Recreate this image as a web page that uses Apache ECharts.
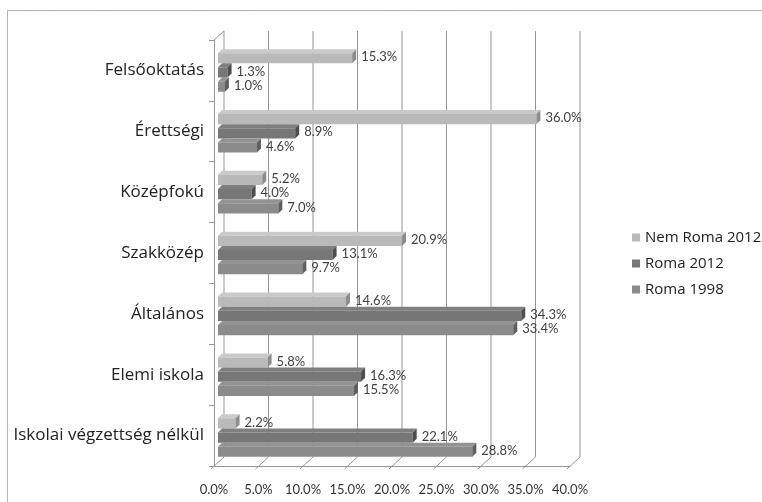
<!DOCTYPE html>
<html>
<head>
<meta charset="utf-8">
<script src="https://cdn.jsdelivr.net/npm/echarts@6/dist/echarts.min.js"></script>
<style>
html,body{margin:0;padding:0;background:#fff;}
#chart{width:762px;height:502px;}
</style>
</head>
<body>
<div id="chart"></div>
<script>
const categories = ['Felsőoktatás', 'Érettségi', 'Középfokú', 'Szakközép', 'Általános', 'Elemi iskola', 'Iskolai végzettség nélkül'];
const seriesNames = ['Nem Roma 2012', 'Roma 2012', 'Roma 1998'];
const nemRoma2012 = [15.3, 36.0, 5.2, 20.9, 14.6, 5.8, 2.2];
const roma2012 = [1.3, 8.9, 4.0, 13.1, 34.3, 16.3, 22.1];
const roma1998 = [1.0, 4.6, 7.0, 9.7, 33.4, 15.5, 28.8];
const xTicks = [0, 5, 10, 15, 20, 25, 30, 35, 40];

const faces = [
  { front: '#b9b9b9', top: '#cacaca', side: '#8c8c8c' },
  { front: '#777777', top: '#7f7f7f', side: '#4e4e4e' },
  { front: '#8b8b8b', top: '#939393', side: '#5f5f5f' }
];
const font = 'Lato, "Open Sans", sans-serif';
const catFont = '"Open Sans", Lato, sans-serif';
const DX = 10, DY = -9;
const gridCol = '#959595';

const chart = echarts.init(document.getElementById('chart'));

function bars(name, values, sIdx) {
  return {
    name: name,
    type: 'custom',
    z: 5,
    itemStyle: { color: faces[sIdx].front },
    encode: { x: 0, y: 1 },
    data: values.map((v, i) => [v, i]),
    renderItem: function (params, api) {
      const v = api.value(0), c = api.value(1);
      const p0 = api.coord([0, c]);
      const p1 = api.coord([v, c]);
      const band = api.size([0, 1])[1];
      const bw = band * 0.7 / 3;
      const d = 4;
      const yTop = p0[1] - band * 0.35 + sIdx * bw;
      const x0 = p0[0] + 4;
      const x1 = p1[0] + 2;
      const f = faces[sIdx];
      return {
        type: 'group',
        children: [
          { type: 'polygon', shape: { points: [[x0, yTop + d], [x0 + d, yTop], [x1 + d, yTop], [x1, yTop + d]] }, style: { fill: f.top } },
          { type: 'rect', shape: { x: x0, y: yTop + d, width: Math.max(x1 - x0, 0), height: bw - d }, style: { fill: f.front } },
          { type: 'polygon', shape: { points: [[x1, yTop + d], [x1 + d, yTop], [x1 + d, yTop + bw - d], [x1, yTop + bw]] }, style: { fill: f.side } },
          { type: 'text', x: x1 + d + 5, y: yTop + bw / 2 + 1, style: { text: v.toFixed(1) + '%', fill: '#404040', font: '13px ' + font, verticalAlign: 'middle', align: 'left' } }
        ]
      };
    }
  };
}

const wall = {
  name: 'wall',
  type: 'custom',
  silent: true,
  z: 1,
  encode: { x: 0, y: 1 },
  data: xTicks.map(t => [t, 0]),
  renderItem: function (params, api) {
    const t = api.value(0);
    const band = api.size([0, 1])[1];
    const top = api.coord([t, 0])[1] - band / 2;
    const bottom = api.coord([t, categories.length - 1])[1] + band / 2;
    const x = api.coord([t, 0])[0];
    const ls = { stroke: gridCol, lineWidth: 1 };
    const children = [
      { type: 'line', shape: { x1: x + DX, y1: top + DY, x2: x + DX, y2: bottom + DY }, style: ls },
      { type: 'line', shape: { x1: x - 3, y1: bottom + 3, x2: x + DX, y2: bottom + DY }, style: ls }
    ];
    if (t === xTicks[0]) {
      children.push({ type: 'line', shape: { x1: x, y1: top, x2: x + DX, y2: top + DY }, style: ls });
    }
    return { type: 'group', children: children };
  }
};

chart.setOption({
  animation: false,
  backgroundColor: '#fff',
  graphic: [{
    type: 'rect',
    shape: { x: 7.5, y: 10.5, width: 800, height: 600 },
    style: { fill: 'none', stroke: '#666', lineWidth: 1, lineDash: [1, 1] },
    silent: true
  }],
  legend: {
    orient: 'vertical',
    left: 627,
    top: 225,
    itemWidth: 8,
    itemHeight: 8,
    itemGap: 11,
    icon: 'rect',
    textStyle: { fontFamily: catFont, fontSize: 15, color: '#222' },
    data: seriesNames
  },
  grid: { left: 214, right: 192, top: 40, bottom: 36, containLabel: false },
  xAxis: {
    type: 'value',
    min: xTicks[0],
    max: xTicks[xTicks.length - 1],
    interval: 5,
    axisLine: { show: true, lineStyle: { color: gridCol } },
    axisTick: { show: false },
    axisLabel: {
      margin: 17,
      color: '#333',
      fontFamily: font,
      fontSize: 13,
      formatter: v => v.toFixed(1) + '%'
    },
    splitLine: { show: false }
  },
  yAxis: {
    type: 'category',
    data: categories,
    inverse: true,
    axisLine: { show: true, lineStyle: { color: gridCol } },
    axisTick: { show: true, length: 5, lineStyle: { color: gridCol } },
    axisLabel: { margin: 10, color: '#222', fontFamily: catFont, fontSize: 17 }
  },
  series: [
    wall,
    bars(seriesNames[0], nemRoma2012, 0),
    bars(seriesNames[1], roma2012, 1),
    bars(seriesNames[2], roma1998, 2)
  ]
});
</script>
</body>
</html>
